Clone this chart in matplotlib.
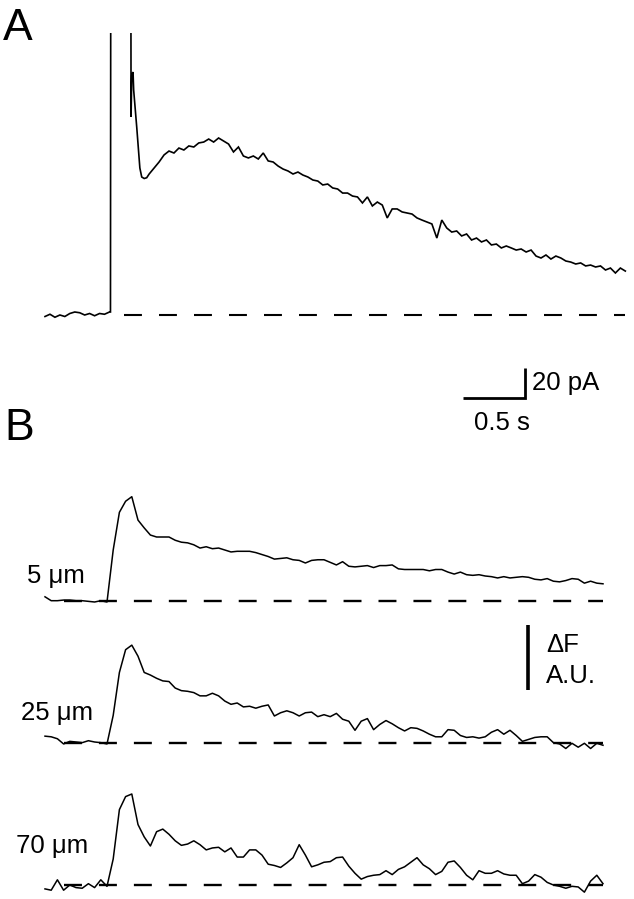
import numpy as np
import matplotlib
matplotlib.use("Agg")
import matplotlib.pyplot as plt

plt.rcParams['font.family'] = ['Liberation Sans', 'DejaVu Sans']

# ---------------- Panel A: whole-cell current (pA) vs time (s) ----------------
a_pre_t = np.round(np.arange(0.0, 0.521, 0.04), 3)
a_pre_i = [-1.0, 0.5, -1.5, 0.0, -1.0, 1.0, 2.0, 1.5, 0.0, 1.0, -0.5, 1.0, 0.5, 2.0]

a_spike_t = [0.528, 0.532, 0.690, 0.694, 0.700, 0.710, 0.715, 0.740, 0.765, 0.780, 0.800, 0.820]
a_spike_i = [2.0, 400.0, 400.0, 132.0, 160.0, 162.0, 150.0, 125.0, 98.0, 92.0, 91.0, 91.5]

a_slow_t = np.round(0.84 + 0.04 * np.arange(97), 3)
a_slow_i = [94.0, 98.0, 102.0, 106.7, 109.3, 108.0, 111.3, 110.0, 112.7, 112.0,
            114.7, 115.3, 117.3, 115.3, 118.0, 116.0, 114.0, 108.7, 112.0, 106.0,
            104.7, 106.0, 104.0, 108.0, 102.7, 102.0, 99.3, 97.3, 96.0, 94.0,
            95.3, 93.3, 92.0, 90.0, 89.3, 86.7, 87.3, 84.7, 84.0, 81.3,
            81.3, 79.3, 78.7, 74.7, 78.7, 72.7, 75.3, 73.3, 64.7, 70.7,
            70.7, 68.7, 68.0, 67.3, 64.7, 63.3, 62.0, 60.7, 51.3, 63.3,
            58.0, 55.3, 56.0, 52.7, 54.0, 50.0, 51.3, 48.7, 50.0, 46.7,
            47.3, 44.7, 46.0, 44.7, 43.3, 44.0, 42.0, 43.3, 39.3, 38.0,
            40.0, 37.3, 39.3, 38.0, 36.0, 35.3, 34.0, 34.7, 32.7, 33.3,
            32.0, 32.7, 30.0, 31.3, 28.0, 31.3, 29.3]

a_dash_t = [0.637, 4.677]          # extent of zero-current dashed line (s)
a_bar_t = 0.5                      # scale bar: 0.5 s
a_bar_i = 20.0                     # scale bar: 20 pA

# ---------------- Panel B: fluorescence (ΔF, A.U.) vs time (s) ----------------
b_t = np.round(0.05 * np.arange(91), 3)
b_labels = ['5 μm', '25 μm', '70 μm']
b_5um = [0.6, 0.0, 0.0, 0.1, 0.1, 0.0, 0.0, -0.1, -0.2, 0.0,
         -0.2, 7.8, 13.6, 15.3, 16.0, 12.4, 11.2, 10.1, 9.8, 9.8,
         9.8, 9.3, 9.0, 8.9, 8.6, 8.1, 8.3, 8.0, 8.1, 7.8,
         7.5, 7.6, 7.6, 7.6, 7.4, 7.1, 6.8, 6.4, 6.5, 6.6,
         6.3, 6.2, 5.8, 6.2, 6.3, 6.3, 5.9, 5.5, 6.0, 5.3,
         5.2, 5.3, 5.4, 5.1, 5.4, 5.4, 5.5, 4.9, 4.8, 4.8,
         4.8, 4.8, 4.6, 4.8, 4.8, 4.4, 4.1, 4.4, 4.0, 3.9,
         4.0, 3.8, 3.7, 3.5, 3.7, 3.5, 3.6, 3.7, 3.6, 3.3,
         3.2, 3.4, 3.0, 2.9, 3.1, 3.4, 3.3, 2.7, 3.0, 2.7, 2.6]
b_25um = [1.1, 1.0, 0.7, -0.1, 0.3, 0.2, 0.1, 0.4, 0.2, 0.1,
          -0.1, 4.3, 10.9, 14.4, 15.1, 13.4, 10.9, 10.5, 10.0, 9.6,
          9.5, 8.5, 8.1, 8.0, 7.8, 7.3, 7.3, 7.7, 7.3, 6.5,
          6.0, 6.2, 5.6, 5.7, 5.4, 5.7, 5.9, 4.2, 4.7, 5.0,
          4.7, 4.2, 4.7, 4.8, 4.1, 4.4, 4.1, 4.6, 3.7, 3.4,
          2.0, 3.4, 3.8, 2.1, 2.9, 3.5, 3.0, 2.4, 1.9, 2.4,
          2.3, 1.9, 1.4, 1.0, 1.0, 2.1, 2.0, 1.2, 0.9, 1.0,
          0.8, 1.0, 1.7, 2.1, 1.4, 2.0, 1.2, 0.3, 0.6, 0.9,
          1.0, 1.0, 0.1, -0.1, -0.8, 0.0, -0.6, 0.0, -0.8, 0.0, -0.3]
b_70um = [-0.6, -0.8, 0.8, -0.8, 0.0, -0.4, -0.5, 0.2, -0.4, 0.8,
          -0.2, 4.0, 11.6, 13.6, 14.0, 9.3, 7.4, 6.0, 8.2, 8.6,
          7.8, 6.8, 6.1, 6.3, 6.8, 6.2, 5.4, 5.7, 5.8, 5.1,
          5.7, 4.3, 4.3, 5.4, 5.4, 4.6, 3.2, 3.0, 2.7, 3.4,
          4.2, 6.2, 4.6, 2.8, 3.1, 3.5, 3.6, 4.2, 4.3, 2.9,
          1.8, 0.9, 1.3, 1.5, 1.6, 2.2, 1.6, 2.4, 2.8, 3.5,
          4.2, 3.1, 2.5, 1.6, 2.1, 3.5, 3.7, 2.7, 1.5, 0.8,
          2.2, 1.8, 1.8, 2.2, 1.7, 1.5, 1.5, 0.2, 0.6, 1.6,
          1.2, 0.4, 0.0, -0.2, -0.5, -0.2, -0.3, -1.1, 0.6, 1.5, 0.2]
b_dash_t = [0.153, 4.50]
b_bar_f = 10.0                     # ΔF scale bar (A.U.)

# ---------------- layout ----------------
W, H = 634, 899
fig = plt.figure(figsize=(W / 100, H / 100), dpi=100)

def fx(x):
    return x / W

def fy(y):
    return 1 - y / H

PX_PER_S = 124.0
T0_PX = 45.0
xlim = (-T0_PX / PX_PER_S, (W - T0_PX) / PX_PER_S)

# Panel A axes (pixel rows 33 .. 460)
A_TOP, A_BOT = 33, 460
PX_PER_PA = 1.5
A_BASE = 315
axA = fig.add_axes([0, fy(A_BOT), 1, (A_BOT - A_TOP) / H])
axA.set_xlim(*xlim)
axA.set_ylim((A_BASE - A_BOT) / PX_PER_PA, (A_BASE - A_TOP) / PX_PER_PA)
axA.axis('off')

axA.plot(np.concatenate([a_pre_t, a_spike_t, a_slow_t]),
         np.concatenate([a_pre_i, a_spike_i, a_slow_i]),
         color='black', lw=1.2, solid_joinstyle='miter')
axA.plot(a_dash_t, [0, 0], color='black', lw=1.5, linestyle=(0, (8.6, 8.2)))

bar_x0 = (463 - T0_PX) / PX_PER_S
bar_y0 = (A_BASE - 398) / PX_PER_PA
axA.plot([bar_x0, bar_x0 + a_bar_t, bar_x0 + a_bar_t],
         [bar_y0, bar_y0, bar_y0 + a_bar_i],
         color='black', lw=2.0, solid_capstyle='butt', solid_joinstyle='miter')

# Panel B axes (pixel rows 460 .. 899)
B_TOP = 460
PX_PER_AU = 6.5
axB = fig.add_axes([0, 0, 1, (H - B_TOP) / H])
axB.set_xlim(*xlim)
axB.set_ylim(0, (H - B_TOP) / PX_PER_AU)
axB.axis('off')

base_px = [600.7, 743.3, 885.0]
for vals, bp in zip([b_5um, b_25um, b_70um], base_px):
    off = (H - bp) / PX_PER_AU
    axB.plot(b_t, np.array(vals) + off, color='black', lw=1.1)
    axB.plot(b_dash_t, [off, off], color='black', lw=1.7, linestyle=(0, (7.6, 7.2)))

fbar_x = (528 - T0_PX) / PX_PER_S
fbar_y0 = (H - 690) / PX_PER_AU
axB.plot([fbar_x, fbar_x], [fbar_y0, fbar_y0 + b_bar_f],
         color='black', lw=2.6, solid_capstyle='butt')

# ---------------- text ----------------
fs = 18.5
fig.text(fx(3), fy(40), 'A', fontsize=32, ha='left', va='baseline')
fig.text(fx(4), fy(440), 'B', fontsize=32, ha='left', va='baseline')
fig.text(fx(532), fy(390), '20 pA', fontsize=fs, ha='left', va='baseline')
fig.text(fx(474), fy(430), '0.5 s', fontsize=fs, ha='left', va='baseline')
fig.text(fx(546), fy(652), 'ΔF', fontsize=fs, ha='left', va='baseline')
fig.text(fx(546), fy(683), 'A.U.', fontsize=fs, ha='left', va='baseline')
for lab, (lx, ly) in zip(b_labels, [(27, 583), (21, 720), (16, 853)]):
    fig.text(fx(lx), fy(ly), lab, fontsize=fs, ha='left', va='baseline')

fig.savefig('out.png', dpi=100, facecolor='white')
